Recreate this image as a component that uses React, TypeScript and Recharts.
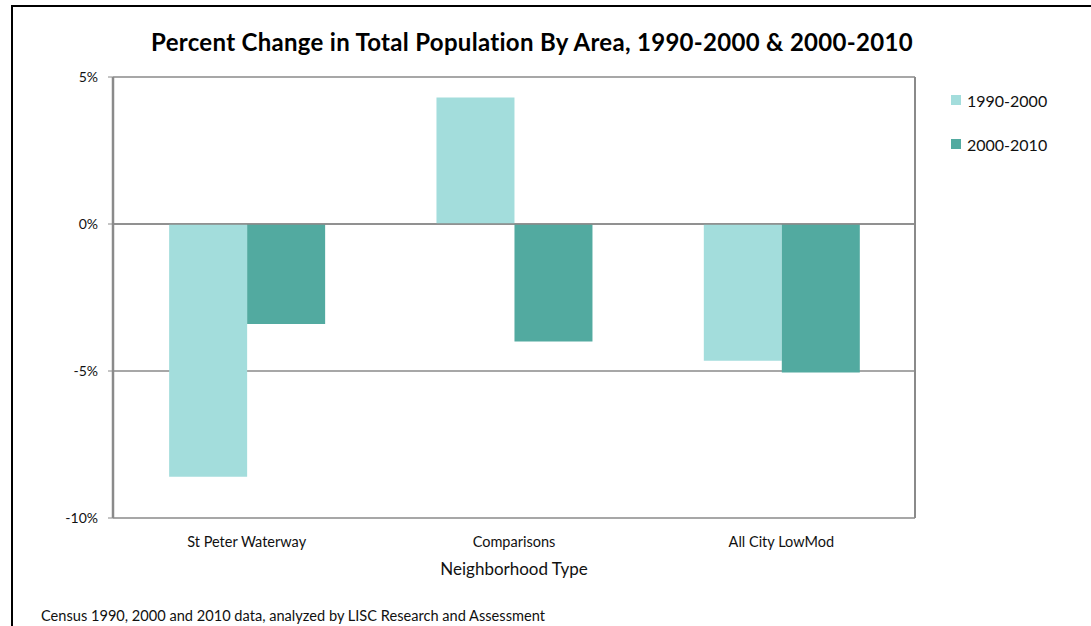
import React from "react";
import { BarChart, Bar, XAxis, YAxis, CartesianGrid, Legend, ReferenceLine } from "recharts";

const areas = ["St Peter Waterway", "Comparisons", "All City LowMod"];
const change1990to2000 = [-8.6, 4.3, -4.65];
const change2000to2010 = [-3.4, -4.0, -5.05];
const yTicks = [-10, -5, 0, 5];

const FONT = "Lato, 'Open Sans', sans-serif";
const GRID = "#8a8a8a";
const LIGHT = "#a3dddc";
const DARK = "#52aaa0";

const data = areas.map((area, i) => ({
  area,
  p1: change1990to2000[i],
  p2: change2000to2010[i],
}));

function LegendBox({ payload }: any) {
  return (
    <div style={{ fontFamily: FONT, fontSize: 16, color: "#111" }}>
      {(payload || []).map((item: any) => (
        <div key={item.value} style={{ display: "flex", alignItems: "center", height: 22, marginBottom: 22 }}>
          <span style={{ width: 10, height: 10, background: item.color, marginRight: 6, display: "inline-block" }} />
          {item.value}
        </div>
      ))}
    </div>
  );
}

export default function App() {
  return (
    <div style={{ position: "absolute", left: 0, top: 0, width: 1091, height: 626, background: "#fff", overflow: "hidden" }}>
      <div style={{ position: "absolute", left: 11, top: 5, width: 1100, height: 700, borderLeft: "2px solid #000", borderTop: "2px solid #000" }} />
      <div style={{ position: "absolute", left: 113, width: 838, top: 27, textAlign: "center", fontFamily: FONT, fontWeight: 700, fontSize: 24, letterSpacing: 0.3, color: "#000" }}>
        Percent Change in Total Population By Area, 1990-2000 &amp; 2000-2010
      </div>
      <BarChart
        width={1091}
        height={626}
        data={data}
        margin={{ top: 77, right: 45, bottom: 68, left: 0 }}
        barCategoryGap="21%"
        barGap={0}
        style={{ position: "absolute", left: 0, top: 0 }}
      >
        <CartesianGrid vertical={false} stroke={GRID} strokeWidth={1.5} />
        <XAxis
          dataKey="area"
          height={40}
          axisLine={false}
          tickLine={false}
          tickSize={0}
          tickMargin={19}
          tick={{ fontFamily: FONT, fontSize: 14.5, fill: "#111" }}
        />
        <YAxis
          width={113}
          domain={[-10, 5]}
          ticks={yTicks}
          interval={0}
          tickFormatter={(v: number) => `${v}%`}
          axisLine={{ stroke: GRID, strokeWidth: 2.5 }}
          tickLine={{ stroke: GRID }}
          tickSize={5}
          tickMargin={10}
          tick={{ fontFamily: FONT, fontSize: 14, fill: "#111" }}
        />
        <YAxis
          yAxisId="frame"
          orientation="right"
          width={1}
          domain={[-10, 5]}
          tick={false}
          tickLine={false}
          axisLine={{ stroke: GRID, strokeWidth: 2 }}
        />
        <Legend
          layout="vertical"
          verticalAlign="top"
          align="right"
          content={<LegendBox />}
          wrapperStyle={{ left: 951, top: 89, width: 130 }}
        />
        <Bar dataKey="p1" name="1990-2000" fill={LIGHT} isAnimationActive={false} />
        <Bar dataKey="p2" name="2000-2010" fill={DARK} isAnimationActive={false} />
        <ReferenceLine y={0} stroke={GRID} strokeWidth={1.5} />
      </BarChart>
      <div style={{ position: "absolute", left: 113, width: 802, top: 558, textAlign: "center", fontFamily: FONT, fontSize: 17, color: "#111" }}>
        Neighborhood Type
      </div>
      <div style={{ position: "absolute", left: 41, top: 607, fontFamily: FONT, fontSize: 14.6, color: "#111" }}>
        Census 1990, 2000 and 2010 data, analyzed by LISC Research and Assessment
      </div>
    </div>
  );
}
